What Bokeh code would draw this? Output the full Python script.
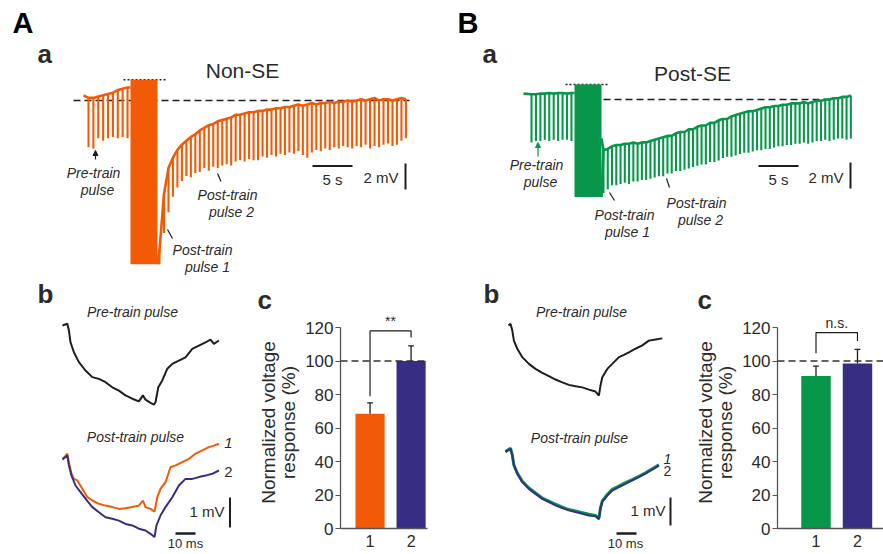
import numpy as np
from bokeh.plotting import figure
from bokeh.layouts import row, column
from bokeh.models import Range1d, Span, FixedTicker, Arrow, NormalHead
from bokeh.embed import file_html
from bokeh.resources import INLINE
from bokeh.core.properties import value

FONT = "Liberation Sans"
ORANGE = "#F25A05"
NAVY = "#372E84"
GREEN = "#07964A"
BLACK = "#1E1E1E"
TXT = "#2B2B2B"

# ======================= DATA =======================
# ---- A-a  Non-SE whole trace: time (s), voltage re. baseline (mV)
A_pre_t0, A_pre_dt = 0.625, 0.61
A_pre_top = [0.2, 0.2, 0.3, 0.4, 0.5, 0.6, 0.8, 0.9, 1.0]
A_pre_trough = [-3.6, -3.7, -2.9, -3.1, -2.9, -2.8, -2.9, -2.8, -2.9]
A_train = dict(start=5.875, end=9.25, top=1.6, bottom=-12.6)
A_post_t0, A_post_dt = 9.5, 0.56
A_post_top = [-11.5, -7.2, -5.2, -4.4, -3.8, -3.4, -3.1, -2.8, -2.6, -2.3,
              -2.1, -1.9, -1.8, -1.6, -1.5, -1.4, -1.3, -1.1, -1.1, -1.0,
              -0.9, -0.9, -0.8, -0.8, -0.7, -0.7, -0.6, -0.6, -0.5, -0.5,
              -0.4, -0.3, -0.4, -0.3, -0.2, -0.3, -0.2, -0.2, -0.1, -0.2,
              -0.1, -0.1, 0.0, -0.1, 0.0, 0.1, 0.0, 0.1, 0.2, 0.0,
              0.1, 0.1, 0.0, 0.1, 0.2, 0.1]
A_post_trough = [-12.6, -10.2, -8.6, -7.4, -6.7, -6.2, -5.8, -5.9, -5.6, -5.5,
                 -5.2, -5.4, -5.1, -5.2, -5.0, -4.9, -5.0, -4.7, -4.6, -4.7,
                 -4.5, -4.6, -4.6, -4.3, -4.4, -4.2, -4.3, -4.1, -4.2, -4.0,
                 -4.1, -3.9, -4.2, -4.4, -4.0, -3.8, -3.9, -3.7, -3.8, -3.6,
                 -3.7, -3.5, -3.6, -3.7, -3.5, -3.6, -3.4, -3.7, -3.5, -3.6,
                 -3.4, -3.3, -3.5, -3.4, -3.1, -2.9]

# ---- B-a  Post-SE whole trace
B_pre_t0, B_pre_dt = 1.0, 0.555
B_pre_top = [0.4, 0.4, 0.45, 0.45, 0.5, 0.45, 0.5, 0.5, 0.45, 0.5]
B_pre_trough = [-3.3, -3.2, -3.2, -3.1, -3.2, -3.1, -3.2, -3.1, -3.1, -3.2]
B_train = dict(start=6.375, end=9.75, top=1.15, bottom=-7.5)
B_post_t0, B_post_dt = 10.0, 0.533
B_post_top = [-3.9, -3.8, -3.6, -3.5, -3.5, -3.4, -3.4, -3.3, -3.4, -3.3,
              -3.3, -3.2, -3.1, -3.0, -2.9, -2.8, -2.8, -2.6, -2.5, -2.5,
              -2.3, -2.3, -2.1, -2.0, -2.0, -1.8, -1.8, -1.6, -1.5, -1.5,
              -1.3, -1.2, -1.1, -1.0, -0.9, -0.9, -0.8, -0.7, -0.6, -0.6,
              -0.5, -0.5, -0.4, -0.4, -0.3, -0.3, -0.3, -0.2, -0.3, -0.2,
              -0.1, -0.1, 0.0, 0.0, 0.1, 0.1, 0.2, 0.2, 0.3]
B_post_trough = [-7.2, -6.9, -6.6, -6.6, -6.5, -6.4, -6.5, -6.3, -6.3, -6.2,
                 -6.2, -6.1, -6.0, -5.9, -5.9, -5.7, -5.7, -5.5, -5.5, -5.4,
                 -5.3, -5.2, -5.1, -5.0, -5.0, -4.8, -4.8, -4.7, -4.5, -4.4,
                 -4.4, -4.3, -4.2, -4.1, -4.1, -4.0, -3.9, -3.9, -3.8, -3.8,
                 -3.7, -3.6, -3.6, -3.5, -3.5, -3.4, -3.4, -3.3, -3.4, -3.3,
                 -3.2, -3.2, -3.1, -3.2, -3.1, -3.0, -3.0, -3.1, -3.0]

# ---- A-b single-pulse responses: time (ms), voltage (mV) re. pulse onset
Ab_pre_t = [0, 2.4, 3.2, 4.0, 5.7, 8.2, 11.5, 14.9, 18.2, 21.5, 24.9, 28.2, 31.5, 34.9, 38.2, 40.2,
            41.5, 44.0, 45.7, 46.5, 47.9, 49.9, 52.4, 54.9, 58.2, 61.5, 64.9, 68.2, 71.5, 74.0, 75.7, 78.2]
Ab_pre_v = [0, 0.06, -0.17, -0.56, -0.89, -1.22, -1.5, -1.72, -1.78, -1.89, -2.06, -2.17, -2.33, -2.44, -2.53, -2.33,
            -2.47, -2.58, -2.64, -2.56, -2.06, -1.83, -1.44, -1.28, -1.17, -1.06, -0.78, -0.67, -0.56, -0.47, -0.61, -0.5]
Ab_p1_t = [0, 2.4, 3.2, 4.5, 5.7, 7.4, 9.9, 12.4, 14.9, 18.2, 21.5, 24.9, 28.2, 31.5, 34.9, 38.2,
           40.2, 41.5, 44.0, 46.0, 47.4, 49.0, 51.5, 54.0, 56.5, 59.9, 63.2, 66.5, 69.9, 73.2, 75.7, 78.2]
Ab_p1_v = [-0.13, 0.06, -0.22, -0.61, -0.78, -0.83, -1.11, -1.39, -1.5, -1.61, -1.67, -1.72, -1.78, -1.76, -1.72, -1.67,
           -1.5, -1.72, -1.78, -1.87, -1.39, -1.11, -0.89, -0.39, -0.33, -0.22, -0.11, 0.06, 0.17, 0.28, 0.33, 0.39]
Ab_p2_t = [0, 2.4, 3.2, 4.5, 6.5, 9.0, 11.5, 14.9, 18.2, 21.5, 24.9, 28.2, 31.5, 34.9, 38.2,
           41.5, 44.0, 46.0, 47.0, 49.0, 51.5, 54.9, 58.2, 61.5, 64.9, 68.2, 71.5, 74.9, 78.2]
Ab_p2_v = [-0.13, 0, -0.33, -0.67, -1.0, -1.22, -1.44, -1.72, -1.89, -2.06, -2.11, -2.17, -2.28, -2.33, -2.44,
           -2.5, -2.61, -2.72, -2.33, -2.0, -1.72, -1.39, -1.0, -0.78, -0.78, -0.72, -0.67, -0.61, -0.5]

# ---- B-b single-pulse responses
Bb_pre_t = [0, 1.0, 1.9, 2.7, 4.4, 6.9, 10.2, 13.5, 16.9, 20.2, 23.5, 26.9, 30.2, 33.5, 36.9,
            40.2, 43.5, 45.2, 46.0, 46.9, 49.4, 51.9, 55.2, 57.7, 60.2, 63.5, 66.9, 70.2, 73.5, 76.9]
Bb_pre_v = [0, 0.06, -0.18, -0.54, -0.83, -1.13, -1.37, -1.55, -1.69, -1.81, -1.93, -2.03, -2.12, -2.17, -2.21,
            -2.29, -2.36, -2.5, -2.14, -1.85, -1.55, -1.37, -1.13, -1.05, -0.96, -0.83, -0.71, -0.54, -0.5, -0.46]
Bb_post_t = [-1.5, 1.0, 1.9, 2.7, 4.4, 6.9, 10.2, 13.5, 16.9, 20.2, 23.5, 26.9, 30.2, 33.5, 36.9,
             40.2, 43.5, 45.2, 46.0, 46.9, 49.4, 51.9, 55.2, 58.5, 61.9, 65.2, 68.5, 71.9, 75.2]
Bb_p1_v = [-0.1, 0.02, -0.22, -0.58, -0.87, -1.16, -1.4, -1.58, -1.76, -1.87, -1.98, -2.08, -2.17, -2.22, -2.28,
           -2.34, -2.38, -2.48, -2.1, -1.86, -1.63, -1.45, -1.33, -1.21, -1.1, -0.98, -0.86, -0.71, -0.57]
Bb_p2_v = [-0.12, 0, -0.24, -0.6, -0.89, -1.19, -1.43, -1.61, -1.79, -1.9, -2.02, -2.12, -2.2, -2.26, -2.32,
           -2.38, -2.41, -2.52, -2.14, -1.9, -1.67, -1.49, -1.37, -1.25, -1.13, -1.01, -0.89, -0.74, -0.6]

# ---- c  bar charts: normalized voltage response (%)
bar_labels = ["1", "2"]
Ac_mean = [68.5, 100.0]
Ac_sem = [6.5, 9.0]
Bc_mean = [91.0, 98.5]
Bc_sem = [6.0, 8.5]


# ======================= HELPERS =======================
def no_align(p):
    if "frame_align" in p.properties():
        p.frame_align = False
    return p


def canvas(w, h, xr, yr):
    p = figure(width=w, height=h, x_range=Range1d(*xr), y_range=Range1d(*yr),
               output_backend="svg", toolbar_location=None,
               x_axis_type=None, y_axis_type=None, min_border=0)
    p.outline_line_color = None
    p.background_fill_color = "white"
    p.border_fill_color = "white"
    return no_align(p)


def mk_txt(p, X, Y):
    def t(px, base, s, size, style="normal", align="center", color=TXT):
        p.text(x=[X(px)], y=[Y(base - 0.35 * size)], text=[s], text_font=value(FONT),
               text_font_size=f"{size}px", text_font_style=style, text_align=align,
               text_baseline="middle", text_color=color)
    return t


def whole_trace(p, pre_t0, pre_dt, pre_top, pre_tr, train, post_t0, post_dt,
                post_top, post_tr, start_v, color):
    pre_t = pre_t0 + pre_dt * np.arange(len(pre_top))
    post_t = post_t0 + post_dt * np.arange(len(post_top))
    p.line([0.0] + list(pre_t) + [train["start"]], [start_v] + pre_top + [pre_top[-1]],
           line_color=color, line_width=2.6)
    p.line([train["end"]] + list(post_t), [train["bottom"]] + post_top,
           line_color=color, line_width=2.6)
    p.vbar(x=pre_t, top=pre_top, bottom=pre_tr, width=0.26, fill_color=color, line_color=None)
    p.vbar(x=post_t, top=post_top, bottom=post_tr, width=0.26, fill_color=color, line_color=None)
    p.quad(left=[train["start"]], right=[train["end"]], top=[train["top"]],
           bottom=[train["bottom"]], fill_color=color, line_color=None)


# ======================= A-a =======================
AX = lambda px: (px - 83) / 8.0
AY = lambda py: (100 - py) / 13.0
pAa = canvas(448, 280, (AX(0), AX(448)), (AY(280), AY(0)))
t = mk_txt(pAa, AX, AY)
pAa.line([AX(73), AX(409)], [0, 0], line_color=BLACK, line_width=1.5, line_dash="7 4")
pAa.line([AX(123), AX(167)], [A_train["top"]] * 2, line_color=BLACK, line_width=1.6, line_dash="2 2")
whole_trace(pAa, A_pre_t0, A_pre_dt, A_pre_top, A_pre_trough, A_train,
            A_post_t0, A_post_dt, A_post_top, A_post_trough, 0.4, ORANGE)
pAa.line([AX(312), AX(312) + 5], [AY(165.5)] * 2, line_color=BLACK, line_width=2)
pAa.line([AX(405)] * 2, [AY(189), AY(189) + 2], line_color=BLACK, line_width=2)
t(332, 184, "5 s", 15)
t(398, 182, "2 mV", 15, align="right")
t(12, 33, "A", 29, "bold", "left", "black")
t(37, 63, "a", 26, "bold", "left", TXT)
t(242, 77, "Non-SE", 21)
t(93, 177, "Pre-train", 14, "italic")
t(97, 194, "pulse", 14, "italic")
pAa.add_layout(Arrow(end=NormalHead(size=5, fill_color=BLACK, line_color=BLACK),
                     x_start=AX(95), y_start=AY(159), x_end=AX(95), y_end=AY(150),
                     line_color=BLACK, line_width=1.2))
t(227, 199, "Post-train", 14, "italic")
t(231, 216, "pulse 2", 14, "italic")
pAa.line([AX(217), AX(220.5)], [AY(173), AY(181)], line_color=BLACK, line_width=1.2)
t(202, 254, "Post-train", 14, "italic")
t(207, 271, "pulse 1", 14, "italic")
pAa.line([AX(167), AX(172)], [AY(229), AY(238)], line_color=BLACK, line_width=1.2)

# ======================= B-a =======================
BX = lambda px: (px - 523) / 8.0
BY = lambda py: (99 - py) / 13.0
pBa = canvas(435, 280, (BX(448), BX(883)), (BY(280), BY(0)))
t = mk_txt(pBa, BX, BY)
pBa.line([BX(603), BX(830)], [0, 0], line_color=BLACK, line_width=1.5, line_dash="7 4")
pBa.line([BX(565), BX(608)], [B_train["top"]] * 2, line_color=BLACK, line_width=1.6, line_dash="2 2")
whole_trace(pBa, B_pre_t0, B_pre_dt, B_pre_top, B_pre_trough, B_train,
            B_post_t0, B_post_dt, B_post_top, B_post_trough, 0.45, GREEN)
pBa.line([B_train["end"], B_post_t0], [-3.0, B_post_top[0]], line_color=GREEN, line_width=2.6)
pBa.line([BX(758), BX(758) + 5], [BY(165.5)] * 2, line_color=BLACK, line_width=2)
pBa.line([BX(850)] * 2, [BY(188), BY(188) + 2], line_color=BLACK, line_width=2)
t(778, 184, "5 s", 15)
t(843, 182, "2 mV", 15, align="right")
t(457, 33, "B", 29, "bold", "left", "black")
t(482, 63, "a", 26, "bold", "left", TXT)
t(692, 80, "Post-SE", 21)
t(536, 169, "Pre-train", 14, "italic")
t(540, 186, "pulse", 14, "italic")
pBa.add_layout(Arrow(end=NormalHead(size=5, fill_color=GREEN, line_color=GREEN),
                     x_start=BX(537.5), y_start=BY(156), x_end=BX(537.5), y_end=BY(142),
                     line_color=GREEN, line_width=1.2))
t(624, 219, "Post-train", 14, "italic")
t(627, 236, "pulse 1", 14, "italic")
pBa.line([BX(609), BX(614)], [BY(192), BY(200)], line_color=BLACK, line_width=1.2)
t(696, 207, "Post-train", 14, "italic")
t(700, 224, "pulse 2", 14, "italic")
pBa.line([BX(666), BX(669)], [BY(178), BY(187)], line_color=BLACK, line_width=1.2)

# ======================= A-b =======================
AbX = lambda px: (px - 62) / 2.0
AbY = lambda py: (325 - py) / 30.0
A_post_off = AbY(455)
pAb = canvas(250, 274, (AbX(0), AbX(250)), (AbY(554), AbY(280)))
t = mk_txt(pAb, AbX, AbY)
pAb.line(Ab_pre_t, Ab_pre_v, line_color=BLACK, line_width=2)
pAb.line(Ab_p1_t, [v + A_post_off for v in Ab_p1_v], line_color=ORANGE, line_width=2)
pAb.line(Ab_p2_t, [v + A_post_off for v in Ab_p2_v], line_color=NAVY, line_width=2)
pAb.line([AbX(229.5)] * 2, [AbY(527), AbY(527) + 1], line_color=BLACK, line_width=2)
pAb.line([AbX(175), AbX(175) + 10], [AbY(533)] * 2, line_color=BLACK, line_width=2.5)
t(37, 303, "b", 26, "bold", "left", TXT)
t(132, 316, "Pre-train pulse", 14, "italic")
t(135, 441, "Post-train pulse", 14, "italic")
t(228, 448, "1", 15, "italic")
t(228, 477, "2", 15)
t(224, 516, "1 mV", 15, align="right")
t(185, 548, "10 ms", 13)

# ======================= B-b =======================
BbX = lambda px: (px - 508) / 2.0
BbY = lambda py: (325 - py) / 28.0
B_post_off = BbY(448.3)
pBb = canvas(242, 274, (BbX(448), BbX(690)), (BbY(554), BbY(280)))
t = mk_txt(pBb, BbX, BbY)
pBb.line(Bb_pre_t, Bb_pre_v, line_color=BLACK, line_width=2)
pBb.line(Bb_post_t, [v + B_post_off for v in Bb_p1_v], line_color=GREEN, line_width=3)
pBb.line(Bb_post_t, [v + B_post_off for v in Bb_p2_v], line_color=NAVY, line_width=2)
pBb.line([BbX(670)] * 2, [BbY(525), BbY(525) + 1], line_color=BLACK, line_width=2)
pBb.line([BbX(616), BbX(616) + 10], [BbY(533)] * 2, line_color=BLACK, line_width=2.5)
t(483, 303, "b", 26, "bold", "left", TXT)
t(581, 316, "Pre-train pulse", 14, "italic")
t(579, 442, "Post-train pulse", 14, "italic")
t(667, 463, "1", 14, "italic")
t(667, 475, "2", 14)
t(665, 515, "1 mV", 15, align="right")
t(625, 548, "10 ms", 13)


# ======================= c bar charts =======================
def bar_chart(width, bl, br, xr, means, sems, colors, bracket, sig, c_offset):
    p = figure(width=width, height=274, x_range=Range1d(*xr), y_range=Range1d(0, 126.6),
               output_backend="svg", toolbar_location=None,
               min_border_left=bl, min_border_right=br, min_border_top=36, min_border_bottom=26)
    no_align(p)
    p.outline_line_color = None
    p.xgrid.visible = False
    p.ygrid.visible = False
    p.title.text = "c"
    p.title.text_font = FONT
    p.title.text_font_size = "26px"
    p.title.text_font_style = "bold"
    p.title.text_color = TXT
    p.title.align = "left"
    p.title.offset = c_offset
    p.title.standoff = 4
    xs = [1, 2]
    tops = [m + s for m, s in zip(means, sems)]
    p.segment(x0=xs, y0=means, x1=xs, y1=tops, line_color=BLACK, line_width=1.3)
    p.segment(x0=[x - 0.07 for x in xs], y0=tops, x1=[x + 0.07 for x in xs], y1=tops,
              line_color=BLACK, line_width=1.3)
    p.vbar(x=xs, top=means, width=0.71, fill_color=colors, line_color=None)
    p.add_layout(Span(location=100, dimension="width", line_color="#333333",
                      line_width=1.5, line_dash="7 4"))
    ytop, lb, rb = bracket
    p.multi_line(xs=[[1, 1, 2, 2]], ys=[[lb, ytop, ytop, rb]], line_color=BLACK, line_width=1.2)
    p.text(x=[1.5], y=[sig[1]], text=[sig[0]], text_font=value(FONT), text_font_size="14px",
           text_align="center", text_baseline="middle", text_color=TXT)
    ya = p.yaxis[0]
    ya.ticker = FixedTicker(ticks=[0, 20, 40, 60, 80, 100, 120])
    ya.bounds = (0, 120)
    ya.axis_label = "Normalized voltage\nresponse (%)"
    ya.axis_label_text_font = FONT
    ya.axis_label_text_font_size = "19px"
    ya.axis_label_text_font_style = "normal"
    ya.axis_label_text_color = TXT
    ya.axis_label_text_line_height = 0.95
    ya.axis_label_standoff = 3
    ya.major_label_text_font = FONT
    ya.major_label_text_font_size = "17px"
    ya.major_label_text_color = TXT
    ya.major_label_standoff = 2
    ya.major_tick_out = 5
    ya.major_tick_in = 0
    ya.minor_tick_out = 0
    ya.minor_tick_in = 0
    ya.axis_line_color = "#555555"
    ya.major_tick_line_color = "#555555"
    ya.axis_line_width = 1.3
    xa = p.xaxis[0]
    xa.ticker = FixedTicker(ticks=xs)
    xa.major_label_overrides = {1: bar_labels[0], 2: bar_labels[1]}
    xa.major_label_text_font = FONT
    xa.major_label_text_font_size = "16px"
    xa.major_label_text_color = TXT
    xa.major_label_standoff = 6
    xa.major_tick_out = 0
    xa.major_tick_in = 0
    xa.minor_tick_out = 0
    xa.minor_tick_in = 0
    xa.axis_line_color = "#555555"
    xa.axis_line_width = 1.3
    return p


pAc = bar_chart(198, 90, 21, (0.28, 2.40), Ac_mean, Ac_sem, [ORANGE, NAVY],
                (118, 79, 114), ("**", 124), -83)
pBc = bar_chart(193, 87, 0, (0.072, 2.627), Bc_mean, Bc_sem, [GREEN, NAVY],
                (117, 104.6, 112), ("n.s.", 122.5), -80)

layout = column(row(pAa, pBa), row(pAb, pAc, pBb, pBc))
open("out.html", "w").write(file_html(layout, INLINE))
